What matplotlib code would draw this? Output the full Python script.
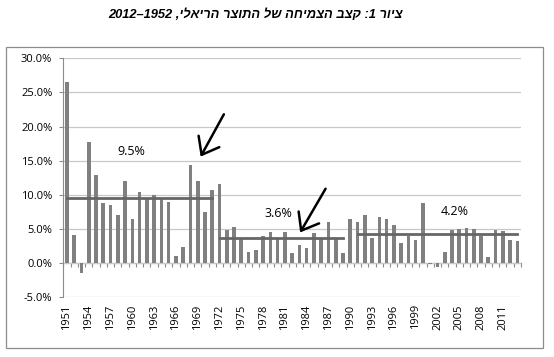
import numpy as np
import matplotlib.pyplot as plt
from matplotlib.patches import Rectangle
from matplotlib.ticker import FuncFormatter

# שנים וקצב צמיחה (%)
years = list(range(1951, 2014))
growth = [26.6, 4.15, -1.4, 17.7, 12.85, 8.75, 8.45, 7.1, 12.0, 6.5,
          10.4, 9.6, 10.0, 9.5, 9.0, 1.0, 2.3, 14.4, 12.0, 7.5,
          10.7, 11.6, 4.8, 5.3, 3.6, 1.6, 2.0, 4.05, 4.6, 3.7,
          4.6, 1.5, 2.6, 2.2, 4.35, 3.7, 6.0, 3.7, 1.5, 6.5,
          6.0, 7.0, 3.7, 6.8, 6.45, 5.6, 2.9, 4.0, 3.4, 8.85,
          -0.1, -0.5, 1.6, 4.85, 4.95, 5.2, 5.0, 4.0, 0.9, 4.85,
          4.65, 3.4, 3.3]

# ממוצעים לתקופות
period_start = [1951, 1972, 1991]
period_end = [1971, 1989, 2013]
period_avg = [9.6, 3.7, 4.2]
period_label = ['9.5%', '3.6%', '4.2%']

title_he = "ציור 1: קצב הצמיחה של התוצר הריאלי"
title = "2012–1952 ," + title_he[::-1]   # סדר חזותי (RTL)

x = np.arange(len(years))

fig = plt.figure(figsize=(5.54, 3.57), dpi=100)
fig.patch.set_facecolor('white')

# מסגרת התרשים
fig.patches.append(Rectangle((0.0108, 0.0252), 0.9693, 0.8431, transform=fig.transFigure,
                             fill=False, edgecolor='#8c8c8c', lw=0.9))

ax = fig.add_axes([0.1143, 0.1672, 0.8261, 0.6695])
ax.bar(x, growth, width=0.5, color='#808080', zorder=3)

for s, e, v in zip(period_start, period_end, period_avg):
    ax.plot([years.index(s), years.index(e)], [v, v], color='#666666', lw=2.0, zorder=4)

ax.set_xlim(-0.5, len(years) - 0.5)
ax.set_ylim(-5, 30)
ax.set_yticks(np.arange(-5, 31, 5))
ax.yaxis.set_major_formatter(FuncFormatter(lambda v, p: f'{v:.1f}%'))
ax.grid(axis='y', color='#c8c8c8', lw=0.9, zorder=0)
ax.set_axisbelow(True)

for sp in ['top', 'right', 'bottom']:
    ax.spines[sp].set_visible(False)
ax.spines['left'].set_color('#8c8c8c')

ax.set_xticks(x[::3])
ax.set_xticklabels([str(y) for y in years[::3]], rotation=90)
ax.tick_params(axis='x', length=0, pad=5, labelsize=8)
ax.tick_params(axis='y', length=3, color='#8c8c8c', pad=5, labelsize=8)
for lab in ax.get_xticklabels() + ax.get_yticklabels():
    lab.set_fontfamily('Open Sans')

# ציר הקטגוריות בגובה 0
zero_ax = ax.secondary_xaxis(5 / 35)
zero_ax.set_xticks(np.arange(-0.5, len(years), 1.0))
zero_ax.set_xticklabels([])
zero_ax.tick_params(length=3, color='#8c8c8c')
zero_ax.spines['bottom'].set_color('#8c8c8c')

# תוויות ממוצע
ax.text(8.9, 16.4, period_label[0], ha='center', va='center', fontsize=9, family='Open Sans')
ax.text(29.1, 7.2, period_label[1], ha='center', va='center', fontsize=9, family='Open Sans')
ax.text(53.4, 7.5, period_label[2], ha='center', va='center', fontsize=9, family='Open Sans')

# חיצים
arrow = dict(arrowstyle='->,head_length=1.1,head_width=0.85', color='black', lw=1.8,
             shrinkA=0, shrinkB=0)
ax.annotate('', xy=(18.4, 15.6), xytext=(21.6, 21.8), arrowprops=arrow, zorder=6)
ax.annotate('', xy=(32.1, 4.5), xytext=(35.6, 10.9), arrowprops=arrow, zorder=6)

fig.text(0.462, 0.958, title, ha='center', va='center', fontsize=9.3,
         fontweight='bold', fontstyle='italic', family=['Liberation Sans', 'DejaVu Sans'])

fig.savefig('out.png', dpi=100)
